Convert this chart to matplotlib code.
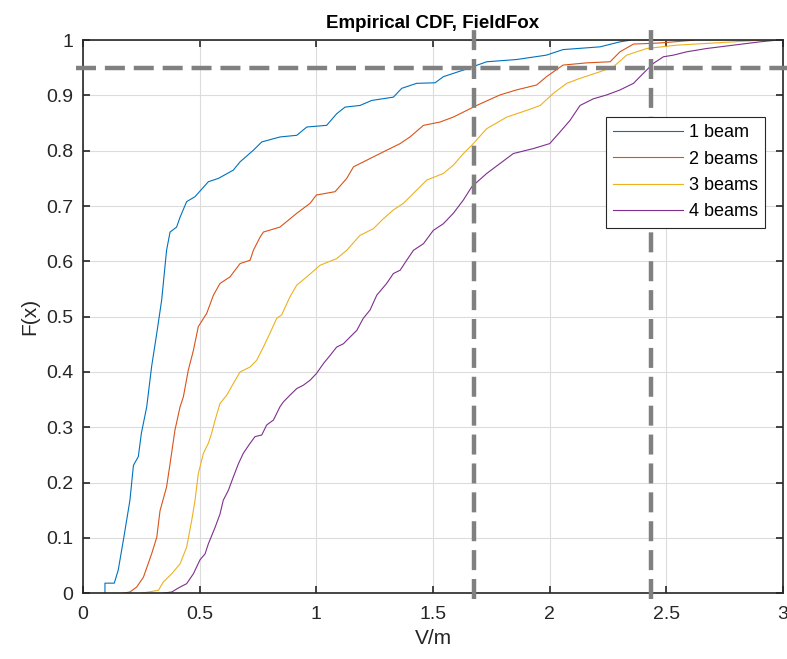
import matplotlib
matplotlib.use("Agg")
import matplotlib.pyplot as plt

plt.rcParams['font.family'] = ['Liberation Sans', 'DejaVu Sans']

# empirical CDF points (V/m, F)
x_1beam = [0.094, 0.094, 0.134, 0.151, 0.173, 0.201, 0.216, 0.237, 0.25, 0.273, 0.294,
           0.316, 0.337, 0.358, 0.373, 0.401, 0.416, 0.444, 0.48, 0.537, 0.58, 0.644,
           0.673, 0.73, 0.766, 0.844, 0.916, 0.959, 1.044, 1.087, 1.123, 1.187, 1.237,
           1.33, 1.366, 1.43, 1.509, 1.544, 1.63, 1.73, 1.857, 1.986, 2.057, 2.216,
           2.301, 2.344]
F_1beam = [0.0, 0.018, 0.018, 0.042, 0.096, 0.168, 0.231, 0.247, 0.289, 0.337, 0.41,
           0.47, 0.53, 0.62, 0.653, 0.662, 0.68, 0.708, 0.717, 0.744, 0.75, 0.765,
           0.78, 0.801, 0.816, 0.825, 0.828, 0.843, 0.846, 0.867, 0.879, 0.882, 0.891,
           0.897, 0.913, 0.922, 0.923, 0.934, 0.946, 0.961, 0.965, 0.973, 0.983, 0.988,
           0.997, 1.0]

x_2beams = [0.173, 0.201, 0.23, 0.259, 0.294, 0.316, 0.33, 0.358, 0.373, 0.394, 0.416,
            0.43, 0.451, 0.473, 0.494, 0.53, 0.559, 0.587, 0.63, 0.673, 0.716, 0.73,
            0.759, 0.773, 0.844, 0.916, 0.973, 1.0, 1.08, 1.13, 1.159, 1.216, 1.287,
            1.359, 1.401, 1.459, 1.53, 1.587, 1.63, 1.687, 1.787, 1.857, 1.944, 1.986,
            2.057, 2.158, 2.259, 2.301, 2.359, 2.473, 2.616]
F_2beams = [0.0, 0.002, 0.011, 0.029, 0.071, 0.101, 0.149, 0.192, 0.234, 0.295, 0.337,
            0.355, 0.403, 0.439, 0.482, 0.506, 0.539, 0.56, 0.572, 0.596, 0.602, 0.62,
            0.644, 0.653, 0.662, 0.687, 0.705, 0.72, 0.726, 0.75, 0.771, 0.783, 0.798,
            0.813, 0.825, 0.846, 0.852, 0.861, 0.87, 0.882, 0.901, 0.91, 0.919, 0.934,
            0.955, 0.959, 0.961, 0.979, 0.993, 0.995, 1.0]

x_3beams = [0.251, 0.323, 0.344, 0.38, 0.416, 0.444, 0.466, 0.48, 0.494, 0.516, 0.537,
            0.551, 0.566, 0.587, 0.616, 0.644, 0.673, 0.716, 0.744, 0.773, 0.801, 0.83,
            0.851, 0.887, 0.916, 0.959, 1.016, 1.087, 1.13, 1.187, 1.244, 1.287, 1.33,
            1.373, 1.416, 1.473, 1.544, 1.587, 1.63, 1.666, 1.73, 1.816, 1.901, 1.959,
            2.016, 2.073, 2.13, 2.216, 2.273, 2.33, 2.416, 2.544, 2.787, 2.9]
F_3beams = [0.0, 0.005, 0.02, 0.035, 0.053, 0.083, 0.132, 0.168, 0.216, 0.253, 0.271,
            0.289, 0.313, 0.343, 0.358, 0.379, 0.4, 0.409, 0.421, 0.445, 0.47, 0.497,
            0.503, 0.536, 0.557, 0.572, 0.593, 0.605, 0.62, 0.647, 0.659, 0.677, 0.693,
            0.705, 0.723, 0.747, 0.759, 0.774, 0.795, 0.81, 0.84, 0.861, 0.873, 0.882,
            0.904, 0.922, 0.931, 0.943, 0.952, 0.973, 0.985, 0.991, 0.997, 1.0]

x_4beams = [0.344, 0.38, 0.416, 0.444, 0.473, 0.501, 0.523, 0.537, 0.566, 0.587, 0.601,
            0.623, 0.644, 0.666, 0.687, 0.716, 0.737, 0.766, 0.787, 0.816, 0.844, 0.859,
            0.887, 0.916, 0.944, 0.973, 1.0, 1.03, 1.059, 1.087, 1.116, 1.144, 1.173,
            1.201, 1.23, 1.259, 1.301, 1.33, 1.359, 1.387, 1.416, 1.459, 1.501, 1.544,
            1.587, 1.63, 1.666, 1.73, 1.787, 1.844, 1.93, 2.0, 2.044, 2.087, 2.13,
            2.187, 2.244, 2.301, 2.359, 2.401, 2.444, 2.487, 2.53, 2.587, 2.673, 2.787,
            2.9, 2.97]
F_4beams = [0.0, 0.002, 0.011, 0.017, 0.035, 0.06, 0.071, 0.089, 0.119, 0.143, 0.168,
            0.186, 0.21, 0.234, 0.253, 0.271, 0.283, 0.286, 0.304, 0.313, 0.337, 0.346,
            0.358, 0.37, 0.376, 0.385, 0.397, 0.415, 0.43, 0.445, 0.451, 0.463, 0.475,
            0.497, 0.512, 0.539, 0.56, 0.578, 0.584, 0.602, 0.62, 0.632, 0.656, 0.668,
            0.687, 0.711, 0.735, 0.759, 0.777, 0.795, 0.804, 0.813, 0.834, 0.855, 0.882,
            0.894, 0.901, 0.91, 0.922, 0.94, 0.958, 0.97, 0.973, 0.979, 0.985, 0.991,
            0.997, 1.0]

labels = ["1 beam", "2 beams", "3 beams", "4 beams"]
colors = ["#0072BD", "#D95319", "#EDB120", "#7E2F8E"]

# reference markers: 95% level and two thresholds
level_95 = 0.95
x_marks = [1.676, 2.434]

fig = plt.figure(figsize=(7.87, 6.59), dpi=100)
ax = fig.add_axes([0.1055, 0.100, 0.8895, 0.839])

series = [(x_1beam, F_1beam), (x_2beams, F_2beams), (x_3beams, F_3beams), (x_4beams, F_4beams)]
for (xs, fs), lab, col in zip(series, labels, colors):
    ax.plot(xs, fs, color=col, lw=0.8, label=lab)

dash = dict(color="#808080", lw=3.2, dashes=(4.5, 2.0), clip_on=False, zorder=5)
ax.plot([-0.03, 3.02], [level_95, level_95], **dash)
for xm in x_marks:
    ax.plot([xm, xm], [-0.01, 1.02], **dash)

ax.set_xlim(0, 3)
ax.set_ylim(0, 1)
ax.set_xticks([0, 0.5, 1, 1.5, 2, 2.5, 3])
ax.set_xticklabels(["0", "0.5", "1", "1.5", "2", "2.5", "3"])
ax.set_yticks([i / 10 for i in range(11)])
ax.set_yticklabels(["0", "0.1", "0.2", "0.3", "0.4", "0.5", "0.6", "0.7", "0.8", "0.9", "1"])

ax.grid(True, color="#dcdcdc", lw=0.8)
ax.set_axisbelow(True)
ax.tick_params(direction="in", top=True, right=True, length=5, width=1.2,
               labelsize=14, labelcolor="#262626", colors="#262626")
ax.tick_params(axis="x", pad=9.5)
ax.tick_params(axis="y", pad=7)
for s in ax.spines.values():
    s.set_linewidth(1.2)
    s.set_color("#262626")

ax.set_xlabel("V/m", fontsize=15, color="#262626", labelpad=4)
ax.set_ylabel("F(x)", fontsize=15, color="#262626", labelpad=5)
ax.set_title("Empirical CDF, FieldFox", fontsize=13.5, fontweight="bold", pad=9)

leg = ax.legend(loc="upper right", bbox_to_anchor=(0.974, 0.861), fontsize=13,
                fancybox=False, edgecolor="#262626", framealpha=1, handlelength=3.9,
                borderpad=0.4, labelspacing=0.52, handletextpad=0.3, borderaxespad=0)
leg.get_frame().set_linewidth(0.8)

fig.savefig("out.png", dpi=100)
